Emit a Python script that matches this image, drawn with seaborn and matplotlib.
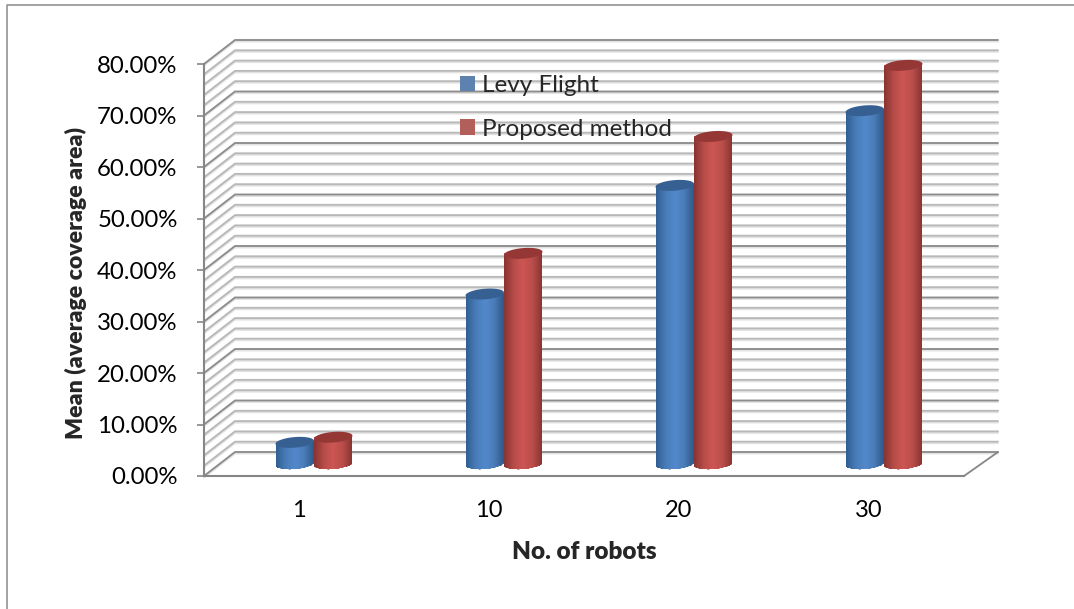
import numpy as np
import pandas as pd
import seaborn as sns
import matplotlib.pyplot as plt
from matplotlib.colors import LinearSegmentedColormap
from matplotlib.lines import Line2D
from matplotlib.patches import Polygon
from matplotlib.transforms import Affine2D
plt.switch_backend('agg')

robots = ['1', '10', '20', '30']
levy_flight = [4.2, 33.0, 54.1, 68.6]
proposed = [5.2, 40.9, 63.6, 77.4]
y_ticks = [0, 10, 20, 30, 40, 50, 60, 70, 80]
y_tick_labels = ['0.00%', '10.00%', '20.00%', '30.00%', '40.00%', '50.00%', '60.00%', '70.00%', '80.00%']

W, H = 1074, 609
PX_CAT = 190.0
PX_PCT = 412 / 80
AXIS = '#868686'
COLORS = ['#4f81bd', '#c0504d']
TOPS = ['#376092', '#953735']
RAMPS = [['#2f5c8f', '#477ab6', '#5288cb', '#4a7db9', '#2f5a8a'],
         ['#8a3432', '#b84c49', '#cc5552', '#b94d4a', '#853230']]

sns.set_style('white')
plt.rcParams['font.family'] = ['Lato', 'DejaVu Sans']

df = pd.DataFrame({
    'robots': robots * 2,
    'value': levy_flight + proposed,
    'series': ['Levy Flight'] * 4 + ['Proposed method'] * 4,
})

fig = plt.figure(figsize=(W / 100, H / 100), dpi=100)
ax = fig.add_axes([204 / W, (H - 476) / H, 760 / W, 412 / H])
sns.barplot(data=df, x='robots', y='value', hue='series', palette=COLORS,
            width=0.405, gap=0, dodge=True, errorbar=None, ax=ax, linewidth=0, zorder=3)
ax.set_xlim(-0.5, 3.5)
ax.set_ylim(0, 80)

# back wall and side wall, in data units behind the front plane
depth_x = 31 / PX_CAT
depth_y = 24 / PX_PCT
end_x = 3.5 + 34 / PX_CAT
for v in np.arange(0, 82, 2):
    major = v % 10 == 0
    col = '#8c8c8c' if major else '#b8b8b8'
    xs = [-0.5, -0.5 + depth_x, end_x]
    ys = [v, v + depth_y, v + depth_y]
    ax.plot(xs, [y - 0.3 for y in ys], color='#e2e2e2', lw=1.3, zorder=1, clip_on=False)
    ax.plot(xs, ys, color=col, lw=1.35, zorder=2, clip_on=False, solid_joinstyle='miter')
ax.plot([3.5, end_x], [0, depth_y], color=AXIS, lw=1.3, zorder=2, clip_on=False)

# bars stand half way into the depth
mid = Affine2D().translate(15, 12)
bar_trans = ax.transData + mid
t = np.linspace(0, 2 * np.pi, 80)
ell_h = 5.3 / PX_PCT
tilt = 1.5 / PX_PCT
for i, cont in enumerate(ax.containers):
    cmap = LinearSegmentedColormap.from_list('cyl%d' % i, RAMPS[i])
    for bar in cont:
        x0 = bar.get_x()
        w = bar.get_width()
        v = bar.get_height()
        cx = x0 + w / 2
        bar.set_transform(bar_trans)
        bar.set_clip_on(False)
        bar.set_zorder(3 + i)
        ex = cx + w / 2 * np.cos(t)
        low = ell_h * np.sin(t) + tilt * np.cos(t)
        lower = t >= np.pi
        body = np.vstack([
            np.column_stack([ex[lower], low[lower]]),
            [[x0 + w, v + tilt], [x0, v - tilt]],
        ])
        outline = Polygon(body, closed=True, transform=bar_trans)
        mesh = ax.pcolormesh(np.linspace(x0, x0 + w, 41), [-ell_h - tilt, v + tilt],
                             np.linspace(0, 1, 40).reshape(1, -1), cmap=cmap,
                             transform=bar_trans, zorder=3 + i, shading='flat')
        mesh.set_clip_box(None)
        mesh.set_clip_path(outline)
        top = Polygon(np.column_stack([ex, v + low]), closed=True, transform=bar_trans,
                      facecolor=TOPS[i], edgecolor='none', zorder=3 + i, clip_on=False)
        ax.add_patch(top)
ax.set_xlim(-0.5, 3.5)
ax.set_ylim(0, 80)

for side in ['top', 'right']:
    ax.spines[side].set_visible(False)
for side in ['left', 'bottom']:
    ax.spines[side].set_color(AXIS)
    ax.spines[side].set_linewidth(1.5)
ax.patch.set_alpha(0)

ax.set_yticks(y_ticks)
ax.set_yticklabels(y_tick_labels)
ax.tick_params(axis='y', left=True, length=5, width=1.2, color=AXIS, labelsize=17.3,
               pad=14, labelcolor='black')
ax.tick_params(axis='x', bottom=False, labelsize=17, pad=14, labelcolor='black')
ax.set_xlabel('No. of robots', fontsize=17.5, fontweight='heavy', labelpad=14)
ax.set_ylabel('Mean (average coverage area)', fontsize=16.6, fontweight='heavy', labelpad=6)
ax.yaxis.set_label_coords(87 / W, (H - 283) / H, transform=fig.transFigure)

sns.move_legend(ax, loc='upper left', bbox_to_anchor=(443 / W, (H - 58) / H),
                bbox_transform=fig.transFigure, frameon=False, title=None,
                fontsize=17.5, labelspacing=0.93, handlelength=0.62, handleheight=0.62,
                handletextpad=0.3, borderpad=0.2)

# page frame around the pasted chart
fig.add_artist(Line2D([7 / W, 7 / W, 1], [0, (H - 5) / H, (H - 5) / H], color='#8a8a8a', lw=1.1))

fig.savefig('out.png', dpi=100)
